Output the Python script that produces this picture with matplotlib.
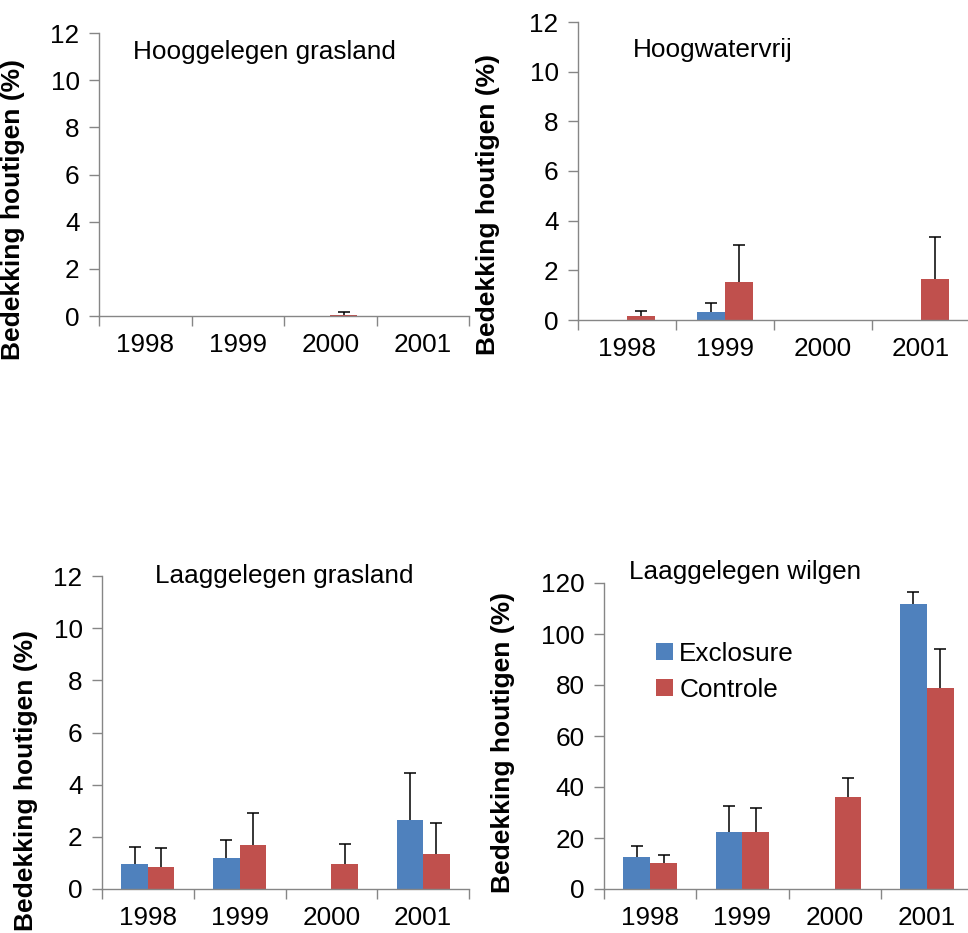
import numpy as np
from matplotlib import pyplot as plt

plt.rcParams['font.family'] = ['Liberation Sans', 'DejaVu Sans']

YEARS = ['1998', '1999', '2000', '2001']
SERIES = ['Exclosure', 'Controle']
BLUE = '#4F81BD'
RED = '#C0504D'
AXIS_GREY = '#868686'
FS = 18.8

# mean cover and upper error (SE) per habitat, exclosure / controle
hoog_gras_excl = [0.0, 0.0, 0.0, 0.0]
hoog_gras_excl_err = [0.0, 0.0, 0.0, 0.0]
hoog_gras_contr = [0.0, 0.0, 0.05, 0.0]
hoog_gras_contr_err = [0.0, 0.0, 0.1, 0.0]

hoogwatervrij_excl = [0.0, 0.33, 0.0, 0.0]
hoogwatervrij_excl_err = [0.0, 0.35, 0.0, 0.0]
hoogwatervrij_contr = [0.18, 1.55, 0.0, 1.66]
hoogwatervrij_contr_err = [0.18, 1.47, 0.0, 1.68]

laag_gras_excl = [0.95, 1.2, 0.0, 2.66]
laag_gras_excl_err = [0.67, 0.66, 0.0, 1.8]
laag_gras_contr = [0.85, 1.68, 0.95, 1.34]
laag_gras_contr_err = [0.72, 1.24, 0.77, 1.2]

laag_wilg_excl = [12.4, 22.3, 0.0, 111.8]
laag_wilg_excl_err = [4.3, 10.3, 0.0, 4.6]
laag_wilg_contr = [10.3, 22.3, 35.9, 78.7]
laag_wilg_contr_err = [2.9, 9.4, 7.7, 15.3]

panels = [
    # title, data, rect, ymax, ystep, title pos, ylabel pos
    ('Hooggelegen grasland',
     (hoog_gras_excl, hoog_gras_excl_err, hoog_gras_contr, hoog_gras_contr_err),
     [99 / 968, 617 / 933, 370 / 968, 283 / 933], 12, 2, (0.092, 0.933), (-0.2, 0.378)),
    ('Hoogwatervrij',
     (hoogwatervrij_excl, hoogwatervrij_excl_err, hoogwatervrij_contr, hoogwatervrij_contr_err),
     [578 / 968, 613 / 933, 392 / 968, 298 / 933], 12, 2, (0.14, 0.906), (-0.199, 0.389)),
    ('Laaggelegen grasland',
     (laag_gras_excl, laag_gras_excl_err, laag_gras_contr, laag_gras_contr_err),
     [102 / 968, 44 / 933, 367 / 968, 313 / 933], 12, 2, (0.144, 1.0), (-0.174, 0.348)),
    ('Laaggelegen wilgen',
     (laag_wilg_excl, laag_wilg_excl_err, laag_wilg_contr, laag_wilg_contr_err),
     [604 / 968, 44 / 933, 369 / 968, 306 / 933], 120, 20, (0.068, 1.036), (-0.241, 0.48)),
]

fig = plt.figure(figsize=(9.68, 9.33), dpi=100)

x = np.arange(len(YEARS))
w = 0.29
for title, (ex, ex_err, co, co_err), rect, ymax, ystep, tpos, lpos in panels:
    ax = fig.add_axes(rect)
    for vals, errs, off, col, name in [(ex, ex_err, -w / 2, BLUE, SERIES[0]),
                                       (co, co_err, w / 2, RED, SERIES[1])]:
        ax.bar(x + off, vals, width=w, color=col, label=name, zorder=2)
        vals = np.array(vals)
        errs = np.array(errs)
        show = errs > 0
        # plus-only error bars: hide the lower cap
        _, caps, _ = ax.errorbar((x + off)[show], vals[show],
                                 yerr=[np.zeros(show.sum()), errs[show]],
                                 fmt='none', ecolor='black', elinewidth=1.1,
                                 capsize=4.3, capthick=1.1, zorder=3)
        if caps:
            caps[0].set_visible(False)

    ax.set_xlim(-0.5, 3.5)
    ax.set_ylim(0, ymax)
    ax.set_yticks(np.arange(0, ymax + 1, ystep))
    ax.set_xticks(np.arange(-0.5, 4, 1))
    ax.set_xticklabels([])
    ax.set_xticks(x, minor=True)
    ax.set_xticklabels(YEARS, minor=True)
    ax.tick_params(axis='x', which='major', direction='out', length=7,
                   color=AXIS_GREY, width=1)
    ax.tick_params(axis='x', which='minor', length=0, pad=12, labelsize=FS)
    ax.tick_params(axis='y', direction='out', length=7, color=AXIS_GREY,
                   width=1, pad=7, labelsize=FS)

    for side in ['top', 'right']:
        ax.spines[side].set_visible(False)
    for side in ['left', 'bottom']:
        ax.spines[side].set_color(AXIS_GREY)
        ax.spines[side].set_linewidth(1)
    ax.patch.set_alpha(0)

    ax.set_ylabel('Bedekking houtigen (%)', fontsize=19, fontweight='bold')
    ax.yaxis.set_label_coords(*lpos)
    ax.text(tpos[0], tpos[1], title, transform=ax.transAxes,
            fontsize=FS, ha='left', va='center')

    if title == 'Laaggelegen wilgen':
        ax.legend(loc='center left', bbox_to_anchor=(0.112, 0.71), frameon=False,
                  fontsize=FS, handlelength=0.65, handleheight=0.65,
                  handletextpad=0.25, labelspacing=0.45, borderaxespad=0)

fig.savefig('out.png', dpi=100)
